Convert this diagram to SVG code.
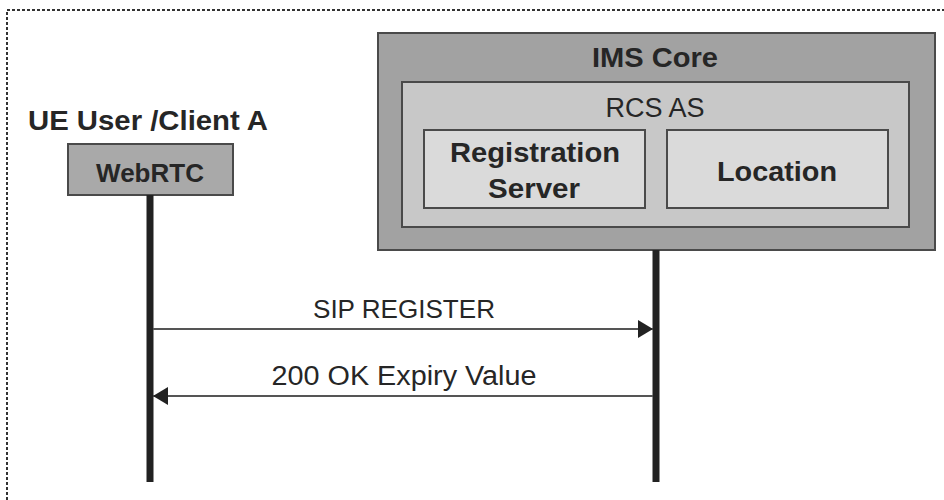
<svg xmlns="http://www.w3.org/2000/svg" width="944" height="500" viewBox="0 0 944 500">
<style>
.bold{font-family:"Liberation Sans",Arial,sans-serif;font-weight:bold;fill:#262626}
.reg{font-family:"Liberation Sans",Arial,sans-serif;fill:#262626}
.box{stroke:#4a4a4a;stroke-width:2}
.life{stroke:#222;stroke-width:7}
.msg{stroke:#555;stroke-width:2;fill:none}
</style>
<defs>
<marker id="ah" viewBox="0 0 15 18" refX="15" refY="9" markerWidth="15" markerHeight="18" markerUnits="userSpaceOnUse" orient="auto">
<path d="M0,0 L15,9 L0,18 Z" fill="#222"/>
</marker>
</defs>
<rect width="944" height="500" fill="#fff"/>
<path d="M7,500 V10 H944" fill="none" stroke="#333" stroke-width="2" stroke-dasharray="3,2"/>
<g id="client-label">
<text class="bold" x="28" y="130" font-size="28" textLength="240" lengthAdjust="spacingAndGlyphs">UE User /Client A</text>
</g>
<g id="webrtc">
<rect class="box" x="68" y="144" width="165" height="51" fill="#a9a9a9"/>
<text class="bold" x="150" y="182" font-size="26" text-anchor="middle">WebRTC</text>
</g>
<g id="ims-core">
<rect class="box" x="378" y="33" width="557" height="217" fill="#a2a2a2"/>
<text class="bold" x="655" y="67" font-size="28" text-anchor="middle" textLength="126" lengthAdjust="spacingAndGlyphs">IMS Core</text>
</g>
<g id="rcs-as">
<rect class="box" x="402" y="82" width="507" height="145" fill="#c8c8c8"/>
<text class="reg" x="655" y="117" font-size="27" text-anchor="middle">RCS AS</text>
</g>
<g id="registration-server">
<rect class="box" x="424" y="130" width="221" height="78" fill="#dadada"/>
<text class="bold" x="535" y="162" font-size="28" text-anchor="middle" textLength="170" lengthAdjust="spacingAndGlyphs">Registration</text>
<text class="bold" x="534" y="198" font-size="28" text-anchor="middle" textLength="92" lengthAdjust="spacingAndGlyphs">Server</text>
</g>
<g id="location">
<rect class="box" x="667" y="130" width="221" height="78" fill="#dadada"/>
<text class="bold" x="777" y="181" font-size="28" text-anchor="middle" textLength="120" lengthAdjust="spacingAndGlyphs">Location</text>
</g>
<g id="connectors">
<line class="life" x1="150" y1="195" x2="150" y2="482"/>
<line class="life" x1="656" y1="250" x2="656" y2="482"/>
<line class="msg" x1="153" y1="329" x2="653" y2="329" marker-end="url(#ah)"/>
<text class="reg" x="404" y="318" font-size="26" text-anchor="middle" textLength="182" lengthAdjust="spacingAndGlyphs">SIP REGISTER</text>
<line class="msg" x1="653" y1="396" x2="153" y2="396" marker-end="url(#ah)"/>
<text class="reg" x="404" y="385" font-size="27" text-anchor="middle" textLength="265" lengthAdjust="spacingAndGlyphs">200 OK Expiry Value</text>
</g>
</svg>
